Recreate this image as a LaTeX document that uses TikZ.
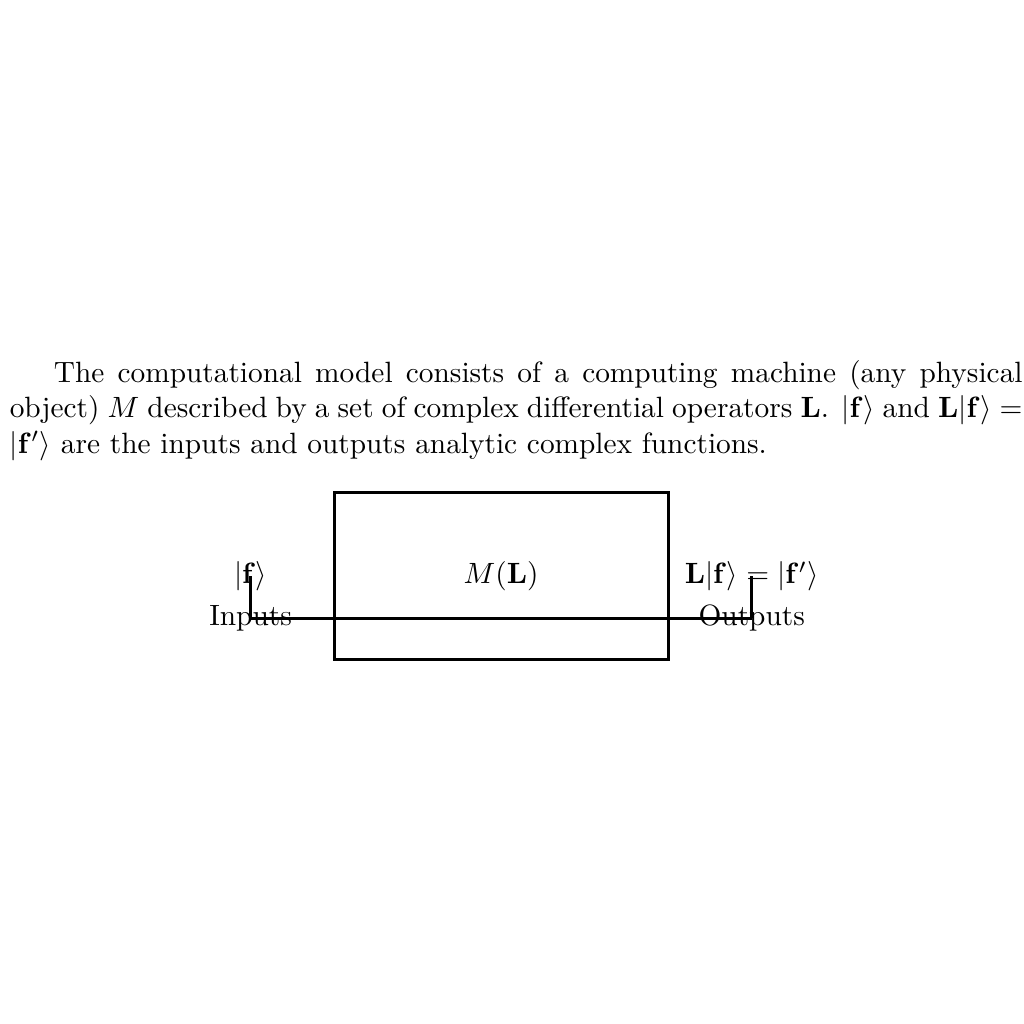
\documentclass[tikz,border=0pt]{standalone}
\begin{document}
\begin{tikzpicture}[line width=1pt]
\useasboundingbox (0,-4.36) rectangle (12.26,7.9);
\node[text width=345pt, inner sep=0pt, anchor=north west, align=justify] (caption) at (0.1,3.6) {\hspace*{15pt}The computational model consists of a computing machine (any physical object) $M$ described by a set of complex differential operators $\mathbf{L}$. $|\mathbf{f}\rangle$ and $\mathbf{L}|\mathbf{f}\rangle = |\mathbf{f'}\rangle$ are the inputs and outputs analytic complex functions.};
\node[draw, minimum width=4cm, minimum height=2cm] (machine) at (6,1) {$M(\mathbf{L})$};
\coordinate (inbase) at (3,0.5);
\coordinate (outbase) at (9,0.5);
\node (inlabel) at (3,1) {$|\mathbf{f}\rangle$};
\node (outlabel) at (9,1) {$\mathbf{L}|\mathbf{f}\rangle = |\mathbf{f'}\rangle$};
\node (intext) at (3,0.5) {Inputs};
\node (outtext) at (9,0.5) {Outputs};
\draw (inbase) -- (outbase);
\draw (inbase) -- (inlabel.center);
\draw (outbase) -- (outlabel.center);
\end{tikzpicture}
\end{document}
